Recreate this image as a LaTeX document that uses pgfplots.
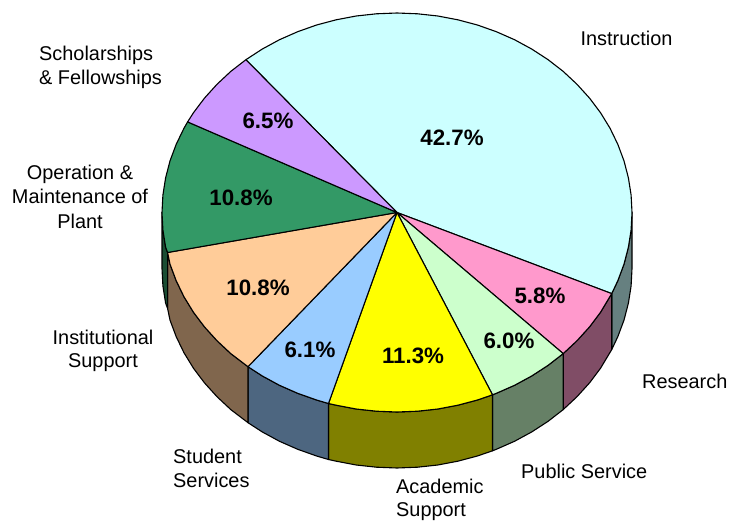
\documentclass[border=0pt]{standalone}
\usepackage{fontspec}
\setmainfont{Liberation Sans}
\usepackage{pgfplots}
\pgfplotsset{compat=1.18}
\definecolor{cInstr}{HTML}{CCFFFF}
\definecolor{cRes}{HTML}{FF99CC}
\definecolor{cPub}{HTML}{CCFFCC}
\definecolor{cAcad}{HTML}{FFFF00}
\definecolor{cStud}{HTML}{99CCFF}
\definecolor{cInst}{HTML}{FFCC99}
\definecolor{cOper}{HTML}{339966}
\definecolor{cSchol}{HTML}{CC99FF}
\definecolor{sInstr}{HTML}{668080}
\definecolor{sRes}{HTML}{804D66}
\definecolor{sPub}{HTML}{668066}
\definecolor{sAcad}{HTML}{808000}
\definecolor{sStud}{HTML}{4D6680}
\definecolor{sInst}{HTML}{80664D}
\definecolor{sOper}{HTML}{1A4D33}
\begin{document}
\begin{tikzpicture}
\begin{axis}[
  scale only axis, width=735pt, height=529pt,
  xmin=0, xmax=735, ymin=0, ymax=529, y dir=reverse,
  hide axis, clip=false,
  every axis plot/.append style={line width=1.1pt, line join=round, draw=black},
]
\addplot[draw=none] coordinates {(0,0)(735,529)};
% side walls
\addplot[fill=sInstr] coordinates {(632,212.5)(631.1,229.9)(628.4,247.1)(624,264.1)(617.8,280.7)(611.7,293.6)(611.7,349.6)(617.8,336.7)(624,320.1)(628.4,303.1)(631.1,285.9)(632,268.5)} --cycle;
\addplot[fill=sRes] coordinates {(611.7,293.6)(600.5,312.3)(589.5,326.9)(577,340.7)(563.2,353.6)(563.2,409.6)(577,396.7)(589.5,382.9)(600.5,368.3)(611.7,349.6)} --cycle;
\addplot[fill=sPub] coordinates {(563.2,353.6)(548.1,365.3)(531.8,375.9)(514.5,385.3)(496.3,393.3)(492.5,394.8)(492.5,450.8)(496.3,449.3)(514.5,441.3)(531.8,431.9)(548.1,421.3)(563.2,409.6)} --cycle;
\addplot[fill=sAcad] coordinates {(492.5,394.8)(477.4,400)(457.8,405.2)(437.8,409)(417.5,411.2)(397,412)(376.5,411.2)(356.2,409)(336.2,405.2)(328.5,403.5)(328.5,459.5)(336.2,461.2)(356.2,465)(376.5,467.2)(397,468)(417.5,467.2)(437.8,465)(457.8,461.2)(477.4,456)(492.5,450.8)} --cycle;
\addplot[fill=sStud] coordinates {(328.5,403.5)(316.6,400)(297.7,393.3)(279.5,385.3)(262.2,375.9)(248,366.7)(248,422.7)(262.2,431.9)(279.5,441.3)(297.7,449.3)(316.6,456)(328.5,459.5)} --cycle;
\addplot[fill=sInst] coordinates {(248,366.7)(230.8,353.6)(217,340.7)(204.5,326.9)(193.5,312.3)(184,296.8)(176.2,280.7)(170,264.1)(167.6,252.5)(167.6,308.5)(170,320.1)(176.2,336.7)(184,352.8)(193.5,368.3)(204.5,382.9)(217,396.7)(230.8,409.6)(248,422.7)} --cycle;
\addplot[fill=sOper] coordinates {(167.6,252.5)(165.6,247.1)(162.9,229.9)(162,212.5)(162,268.5)(162.9,285.9)(165.6,303.1)(167.6,308.5)} --cycle;
% top slices
\addplot[fill=cInstr] coordinates {(397,212.5)(245.9,59.7)(262.2,49.1)(279.5,39.7)(297.7,31.7)(316.6,25)(336.2,19.8)(356.2,16)(376.5,13.8)(397,13)(417.5,13.8)(437.8,16)(457.8,19.8)(477.4,25)(496.3,31.7)(514.5,39.7)(531.8,49.1)(548.1,59.7)(563.2,71.4)(577,84.3)(589.5,98.1)(600.5,112.7)(610,128.2)(617.8,144.3)(624,160.9)(628.4,177.9)(631.1,195.1)(632,212.5)(631.1,229.9)(628.4,247.1)(624,264.1)(617.8,280.7)(611.7,293.6)} --cycle;
\addplot[fill=cRes] coordinates {(397,212.5)(611.7,293.6)(600.5,312.3)(589.5,326.9)(577,340.7)(563.2,353.6)} --cycle;
\addplot[fill=cPub] coordinates {(397,212.5)(563.2,353.6)(548.1,365.3)(531.8,375.9)(514.5,385.3)(496.3,393.3)(492.5,394.8)} --cycle;
\addplot[fill=cAcad] coordinates {(397,212.5)(492.5,394.8)(477.4,400)(457.8,405.2)(437.8,409)(417.5,411.2)(397,412)(376.5,411.2)(356.2,409)(336.2,405.2)(328.5,403.5)} --cycle;
\addplot[fill=cStud] coordinates {(397,212.5)(328.5,403.5)(316.6,400)(297.7,393.3)(279.5,385.3)(262.2,375.9)(248,366.7)} --cycle;
\addplot[fill=cInst] coordinates {(397,212.5)(248,366.7)(230.8,353.6)(217,340.7)(204.5,326.9)(193.5,312.3)(184,296.8)(176.2,280.7)(170,264.1)(167.6,252.5)} --cycle;
\addplot[fill=cOper] coordinates {(397,212.5)(167.6,252.5)(165.6,247.1)(162.9,229.9)(162,212.5)(162.9,195.1)(165.6,177.9)(170,160.9)(176.2,144.3)(184,128.2)(187.6,121.9)} --cycle;
\addplot[fill=cSchol] coordinates {(397,212.5)(187.6,121.9)(193.5,112.7)(204.5,98.1)(217,84.3)(230.8,71.4)(245.9,59.7)} --cycle;
% percentages
\begin{scope}[every node/.style={font=\fontsize{22.3}{24}\selectfont\bfseries, anchor=base, inner sep=0pt}]
\node at (axis cs:452,146) {42.7\%};
\node at (axis cs:268,129) {6.5\%};
\node at (axis cs:241,205) {10.8\%};
\node at (axis cs:258,295) {10.8\%};
\node at (axis cs:310,357) {6.1\%};
\node at (axis cs:413,363) {11.3\%};
\node at (axis cs:509,348) {6.0\%};
\node at (axis cs:540,303) {5.8\%};
\end{scope}
% labels
\begin{scope}[every node/.style={font=\fontsize{19.9}{22}\selectfont, anchor=base, inner sep=0pt}]
\node at (axis cs:626.5,46) {Instruction};
\node[anchor=base west] at (axis cs:39,61) {Scholarships};
\node[anchor=base west] at (axis cs:39,85) {\& Fellowships};
\node at (axis cs:80,180) {Operation \&};
\node at (axis cs:80,204) {Maintenance of};
\node at (axis cs:80,228) {Plant};
\node at (axis cs:103,344) {Institutional};
\node at (axis cs:103,367) {Support};
\node[anchor=base west] at (axis cs:173,463) {Student};
\node[anchor=base west] at (axis cs:173,487) {Services};
\node[anchor=base west] at (axis cs:396,493) {Academic};
\node[anchor=base west] at (axis cs:396,516) {Support};
\node[anchor=base west] at (axis cs:521,478) {Public Service};
\node[anchor=base west] at (axis cs:642,388) {Research};
\end{scope}
\end{axis}
\end{tikzpicture}
\end{document}
